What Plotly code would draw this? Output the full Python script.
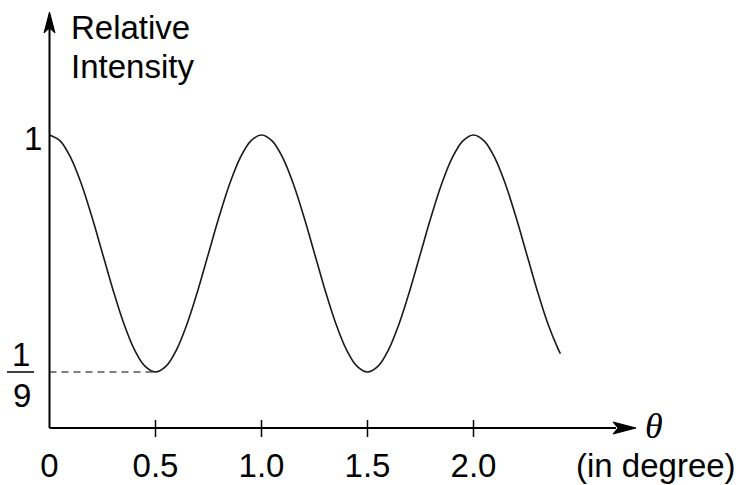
import plotly.graph_objects as go

# ---- data ----
theta = [0.00, 0.05, 0.10, 0.15, 0.20, 0.25, 0.30, 0.35, 0.40, 0.45,
         0.50, 0.55, 0.60, 0.65, 0.70, 0.75, 0.80, 0.85, 0.90, 0.95,
         1.00, 1.05, 1.10, 1.15, 1.20, 1.25, 1.30, 1.35, 1.40, 1.45,
         1.50, 1.55, 1.60, 1.65, 1.70, 1.75, 1.80, 1.85, 1.90, 1.95,
         2.00, 2.05, 2.10, 2.15, 2.20, 2.25, 2.30, 2.35, 2.40, 2.41]
intensity = [1.000, 0.978, 0.915, 0.817, 0.693, 0.556, 0.418, 0.294, 0.196, 0.133,
             0.111, 0.133, 0.196, 0.294, 0.418, 0.556, 0.693, 0.817, 0.915, 0.978,
             1.000, 0.978, 0.915, 0.817, 0.693, 0.556, 0.418, 0.294, 0.196, 0.133,
             0.111, 0.133, 0.196, 0.294, 0.418, 0.556, 0.693, 0.817, 0.915, 0.978,
             1.000, 0.978, 0.915, 0.817, 0.693, 0.556, 0.418, 0.294, 0.196, 0.180]
x_tick_vals = [0, 0.5, 1.0, 1.5, 2.0]
x_tick_text = ["0", "0.5", "1.0", "1.5", "2.0"]
min_level = 1 / 9
min_theta = 0.5

# ---- geometry (pixels) ----
W, H = 741, 485
X0PX, XSCALE = 49.5, 212.0
Y1PX, YSCALE = 135.0, 266.6
AXIS_PY = 428.0


def xd(px):
    return (px - X0PX) / XSCALE


def yd(py):
    return 1 - (py - Y1PX) / YSCALE


FONT = "Liberation Sans, Arial, sans-serif"
FS = 33

fig = go.Figure()

fig.add_trace(go.Scatter(
    x=theta, y=intensity, mode="lines",
    line=dict(color="#1a1a1a", width=1.6, shape="spline", smoothing=1.0),
    hoverinfo="skip", showlegend=False))

fig.add_trace(go.Scatter(
    x=[0, min_theta], y=[min_level, min_level], mode="lines",
    line=dict(color="#555555", width=1.5, dash="7px,5px"),
    hoverinfo="skip", showlegend=False))

shapes = []
y_axis = yd(AXIS_PY)
# axis lines
shapes.append(dict(type="line", xref="x", yref="y", x0=0, x1=xd(616), y0=y_axis, y1=y_axis,
                   line=dict(color="black", width=2)))
shapes.append(dict(type="line", xref="x", yref="y", x0=0, x1=0, y0=y_axis, y1=yd(28),
                   line=dict(color="black", width=2)))


def path(points):
    s = "M " + " L ".join(f"{xd(px):.5f},{yd(py):.5f}" for px, py in points) + " Z"
    return s


# arrowheads
shapes.append(dict(type="path", xref="x", yref="y",
                   path=path([(636, AXIS_PY), (613, AXIS_PY - 6), (618, AXIS_PY), (613, AXIS_PY + 6)]),
                   fillcolor="black", line=dict(color="black", width=1)))
shapes.append(dict(type="path", xref="x", yref="y",
                   path=path([(X0PX, 12), (X0PX - 5.5, 33), (X0PX, 28), (X0PX + 5.5, 33)]),
                   fillcolor="black", line=dict(color="black", width=1)))
# tick marks (crossing the axis)
for v in x_tick_vals[1:]:
    shapes.append(dict(type="line", xref="x", yref="y", x0=v, x1=v,
                       y0=yd(AXIS_PY - 8), y1=yd(AXIS_PY + 9),
                       line=dict(color="black", width=1.5)))
# fraction bar for 1/9
shapes.append(dict(type="line", xref="x", yref="y", x0=xd(7), x1=xd(34),
                   y0=min_level, y1=min_level, line=dict(color="black", width=1.5)))

annotations = [
    dict(x=xd(69), y=yd(27), text="Relative", xanchor="left", yanchor="middle"),
    dict(x=xd(69), y=yd(66), text="Intensity", xanchor="left", yanchor="middle"),
    dict(x=xd(33), y=yd(138), text="1", xanchor="center", yanchor="middle"),
    dict(x=xd(21), y=yd(354), text="1", xanchor="center", yanchor="middle"),
    dict(x=xd(22), y=yd(395), text="9", xanchor="center", yanchor="middle"),
    dict(x=xd(656), y=yd(465), text="(in degree)", xanchor="center", yanchor="middle"),
    dict(x=xd(654), y=yd(426), text="<i>θ</i>", xanchor="center", yanchor="middle",
         font=dict(family="Liberation Serif, Times New Roman, serif", size=36, color="black")),
]
for a in annotations:
    a.update(xref="x", yref="y", showarrow=False)
    a.setdefault("font", dict(family=FONT, size=FS, color="black"))

fig.update_layout(
    width=W, height=H,
    margin=dict(l=0, r=0, t=0, b=0),
    paper_bgcolor="white", plot_bgcolor="white",
    shapes=shapes, annotations=annotations,
    xaxis=dict(range=[xd(0), xd(W)], domain=[0, 1], anchor="free",
               position=(H - AXIS_PY) / H,
               showgrid=False, zeroline=False, showline=False,
               tickvals=x_tick_vals, ticktext=x_tick_text,
               ticks="", ticklabelstandoff=15,
               tickfont=dict(family=FONT, size=FS, color="black")),
    yaxis=dict(range=[yd(H), yd(0)], domain=[0, 1], visible=False,
               showgrid=False, zeroline=False),
    showlegend=False,
)

fig.write_html("out.html", config={"displayModeBar": False},
               post_script="document.body.style.margin='0';")
